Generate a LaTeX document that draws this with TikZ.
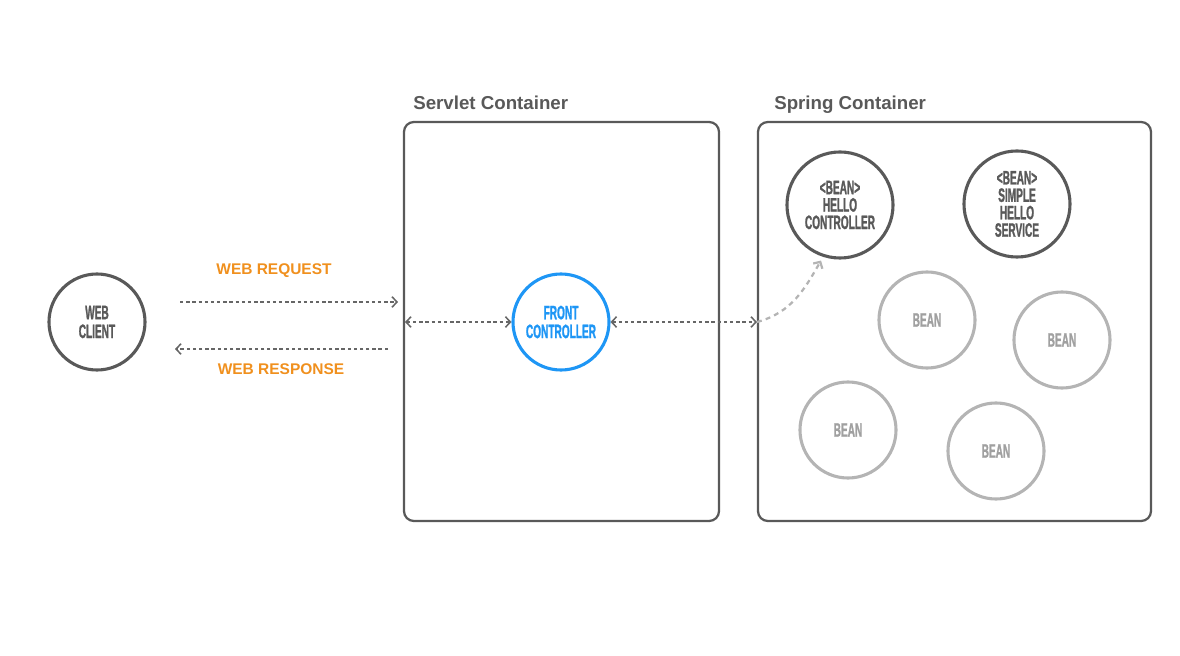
\documentclass[tikz,border=0pt]{standalone}
\usepackage{fontspec}
\setmainfont{Liberation Sans}
\newfontfamily\narrowfont[FakeStretch=0.52, BoldFeatures={FakeBold=1.2}]{Liberation Sans}
\usetikzlibrary{shapes}
\usetikzlibrary{arrows.meta}
\usetikzlibrary{calc}
\definecolor{frame gray}{HTML}{595959}
\definecolor{bean gray}{HTML}{B4B4B4}
\definecolor{bean text}{HTML}{A0A0A0}
\definecolor{flow gray}{HTML}{666666}
\definecolor{front blue}{HTML}{1E96F5}
\definecolor{label orange}{HTML}{F0901E}

\tikzset{
  container/.style = {draw = frame gray, line width = 1.6pt, rounded corners = 7pt},
  heading/.style = {anchor = base west, inner sep = 0pt, text = frame gray, %
    font = \fontsize{13.3}{15}\selectfont\bfseries},
  bubble/.style = {circle, draw = frame gray, line width = 2.2pt, align = center, %
    inner sep = 0pt, minimum size = 2.4cm, text = frame gray, %
    font = \narrowfont\bfseries\fontsize{13.8}{13.4}\selectfont},
  bigbubble/.style = {bubble, minimum size = 2.65cm, %
    font = \narrowfont\bfseries\fontsize{13.8}{12.4}\selectfont},
  bean/.style = {bubble, draw = bean gray, text = bean text},
  flow/.style = {draw = flow gray, line width = 1.1pt, dash pattern = on 2.4pt off 2pt, %
    -{Straight Barb[length=3.5pt,width=7.5pt]}},
  twoway/.style = {flow, {Straight Barb[length=3.5pt,width=7.5pt]}-{Straight Barb[length=3.5pt,width=7.5pt]}},
  tag/.style = {text = label orange, inner sep = 0pt, %
    font = \fontsize{11}{13}\selectfont\bfseries}
}

\begin{document}
\begin{tikzpicture}[x = 0.025cm, y = -0.025cm]
  \useasboundingbox (0, 0) rectangle (1180, 656);

  % containers
  \draw[container] (404, 122) rectangle (719, 521);
  \draw[container] (758, 122) rectangle (1151, 521);
  \node[heading] (servlet title) at (413, 110) {Servlet Container};
  \node[heading] (spring title) at (774, 110) {Spring Container};

  % nodes
  \node[bubble] (client) at (97, 322) {WEB\\CLIENT};
  \node[bubble, draw = front blue, text = front blue] (front) at (561, 322) {FRONT\\CONTROLLER};
  \node[bigbubble] (hello) at (840, 205) {<BEAN>\\HELLO\\CONTROLLER};
  \node[bigbubble] (service) at (1017, 204) {<BEAN>\\SIMPLE\\HELLO\\SERVICE};
  \node[bean] (bean a) at (927, 320) {BEAN};
  \node[bean] (bean b) at (1062, 340) {BEAN};
  \node[bean] (bean c) at (848, 430) {BEAN};
  \node[bean] (bean d) at (996, 451) {BEAN};

  \coordinate (req start) at (180, 302);
  \coordinate (req end) at (398, 302);
  \coordinate (resp start) at (388, 349);
  \coordinate (resp end) at (175, 349);
  \coordinate (servlet edge) at (405, 322);
  \coordinate (spring edge) at (757, 322);

  % connectors
  \draw[flow] (req start) -- (req end);
  \draw[flow] (resp start) -- (resp end);
  \draw[twoway] (servlet edge) -- (front);
  \draw[twoway] (front) -- (spring edge);
  \draw[flow, draw = bean gray, line width = 1.6pt, dash pattern = on 3.5pt off 3pt, %
    shorten > = 3pt] (spring edge) to[out = 15, in = 240] (hello.252);

  \node[tag] (request label) at (274, 271) {WEB REQUEST};
  \node[tag] (response label) at (281, 369) {WEB RESPONSE};
\end{tikzpicture}
\end{document}
